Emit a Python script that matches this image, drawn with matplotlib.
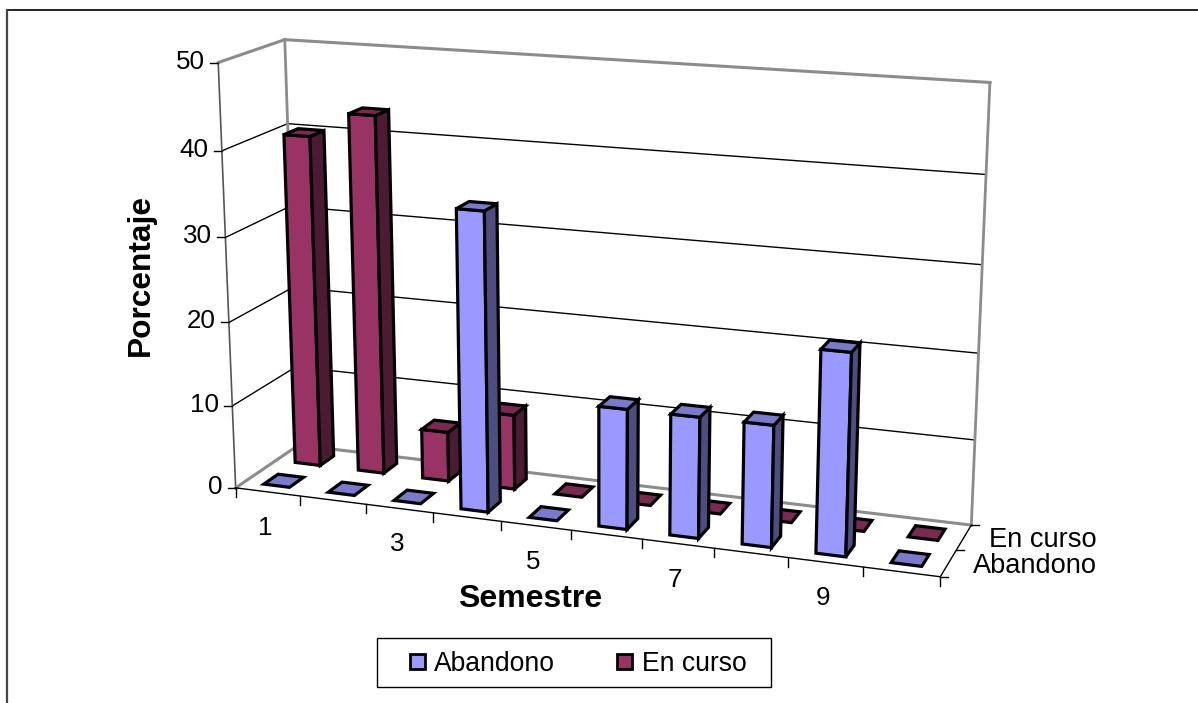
import numpy as np
import matplotlib
matplotlib.use('Agg')
import matplotlib.pyplot as plt
from matplotlib.patches import Polygon, Rectangle

plt.rcParams['font.family'] = ['Liberation Sans', 'DejaVu Sans']

semestres = [1, 2, 3, 4, 5, 6, 7, 8, 9, 10]
tick_labels = ['1', '', '3', '', '5', '', '7', '', '9', '']
abandono = [0, 0, 0, 35, 0, 14, 14, 14, 23, 0]
en_curso = [40, 43, 6, 9, 0, 0, 0, 0, 0, 0]
series_names = ['Abandono', 'En curso']
z_ticks = [0, 10, 20, 30, 40, 50]

# (x, y, z) of the plot box -> screen position, used to fit the camera
x_max, y_max, z_max = len(semestres), len(series_names), z_ticks[-1]
anchors = [
    ((0, 0, 0), (236, 488)), ((0, y_max, 0), (298, 445)),
    ((x_max, y_max, 0), (972, 524)), ((x_max, 0, 0), (940, 577)),
    ((0, 0, z_max), (218, 62)), ((0, y_max, z_max), (285, 40)),
    ((x_max, y_max, z_max), (990, 82)), ((0, 0, 40), (222, 151)),
    ((x_max, y_max, 20), (978, 353)), ((x_max, y_max, 40), (986, 175)),
    ((x_max, y_max, 10), (975, 441)),
]
rows = []
rhs = []
for (x, y, z), (u, v) in anchors:
    rows.append([x, y, z, 1, 0, 0, 0, 0, -u * x, -u * y, -u * z])
    rows.append([0, 0, 0, 0, x, y, z, 1, -v * x, -v * y, -v * z])
    rhs += [u, v]
cam = np.append(np.linalg.lstsq(np.array(rows, float), np.array(rhs, float), rcond=None)[0], 1).reshape(3, 4)


def project(x, y, z):
    p = cam @ np.array([x, y, z, 1.0])
    return p[0] / p[2], p[1] / p[2]


fig = plt.figure(figsize=(11.98, 7.03), dpi=100)
ax = fig.add_axes([0, 0, 1, 1])
ax.set_xlim(0, 1198)
ax.set_ylim(703, 0)
ax.axis('off')


def line3d(a, b, color='black', lw=1.0, zorder=2):
    pa, pb = project(*a), project(*b)
    ax.plot([pa[0], pb[0]], [pa[1], pb[1]], color=color, lw=lw, zorder=zorder, solid_capstyle='projecting')


# outer chart frame, open on the right and at the bottom
ax.plot([1198, 7], [9.5, 9.5], color='black', lw=1.2)
ax.plot([7, 7], [9.5, 703], color='#444444', lw=1.6)

# walls and gridlines
gray = '#8c8c8c'
for z in z_ticks[1:-1]:
    line3d((0, 0, z), (0, y_max, z))
    line3d((0, y_max, z), (x_max, y_max, z))
line3d((0, 0, 0), (0, 0, z_max), color='#555555', lw=1.2)
line3d((0, y_max, 0), (0, y_max, z_max), color=gray, lw=2)
line3d((x_max, y_max, 0), (x_max, y_max, z_max), color=gray, lw=2)
line3d((0, 0, z_max), (0, y_max, z_max), color=gray, lw=2.2)
line3d((0, y_max, z_max), (x_max, y_max, z_max), color=gray, lw=2.2)
line3d((0, 0, 0), (0, y_max, 0), color=gray, lw=2.2)
line3d((0, y_max, 0), (x_max, y_max, 0), color=gray, lw=2.2)
line3d((0, 0, 0), (x_max, 0, 0))
line3d((x_max, 0, 0), (x_max, y_max, 0))

# ticks
for z in z_ticks:
    u, v = project(0, 0, z)
    ax.plot([u - 8, u], [v, v], color='black', lw=1.0)
    ax.text(u - 13, v - 1, str(z), ha='right', va='center', fontsize=18.7)
for i in range(x_max + 1):
    u, v = project(i, 0, 0)
    ax.plot([u, u], [v, v + 9], color='black', lw=1.0)
for i, lab in enumerate(tick_labels):
    u, v = project(i + 0.5, 0, 0)
    ax.text(u - 2.5, v + 36, lab, ha='center', va='center', fontsize=18.7)
for j in range(y_max + 1):
    u, v = project(x_max, j, 0)
    ax.plot([u, u + 8], [v, v], color='black', lw=1.0)
for j, name in enumerate(series_names):
    u, v = project(x_max, j + 0.5, 0)
    ax.text(1097, v + 3, name, ha='right', va='center', fontsize=19.6)

bar_w = 0.4
bar_d = 0.45
colors = [('#9999ff', '#4d4d80', '#7a7acc'), ('#993366', '#4d1a33', '#7a2952')]


def draw_bar(cat, s, h, shades, zorder):
    x0 = cat + (1 - bar_w) / 2
    x1 = x0 + bar_w
    y0 = s + (1 - bar_d) / 2
    y1 = y0 + bar_d
    front = [(x0, y0, 0), (x1, y0, 0), (x1, y0, h), (x0, y0, h)]
    side = [(x1, y0, 0), (x1, y1, 0), (x1, y1, h), (x1, y0, h)]
    top = [(x0, y0, h), (x1, y0, h), (x1, y1, h), (x0, y1, h)]
    faces = [(top, shades[2])] if h == 0 else [(front, shades[0]), (side, shades[1]), (top, shades[2])]
    for pts, col in faces:
        ax.add_patch(Polygon([project(*p) for p in pts], closed=True, facecolor=col, edgecolor='black',
                             lw=2.3, joinstyle='miter', zorder=zorder))


for i, h in enumerate(en_curso):
    draw_bar(i, 1, h, colors[1], 3 + i * 0.01)
for i, h in enumerate(abandono):
    draw_bar(i, 0, h, colors[0], 4 + i * 0.01)

# axis titles
ax.text(141, 275, 'Porcentaje', rotation=90, ha='center', va='center', fontsize=22.8, fontweight='bold')
ax.text(530, 599, 'Semestre', ha='center', va='center', fontsize=23, fontweight='bold')

# legend
ax.add_patch(Rectangle((377, 638), 394, 49, facecolor='white', edgecolor='black', lw=1.0, zorder=5))
ax.add_patch(Rectangle((410, 654), 15, 15, facecolor=colors[0][0], edgecolor='black', lw=2, zorder=6))
ax.text(434, 664, series_names[0], ha='left', va='center', fontsize=19.1, zorder=6)
ax.add_patch(Rectangle((617, 654), 15, 15, facecolor=colors[1][0], edgecolor='black', lw=2, zorder=6))
ax.text(642, 664, series_names[1], ha='left', va='center', fontsize=19.1, zorder=6)

fig.savefig('out.png', dpi=100)
